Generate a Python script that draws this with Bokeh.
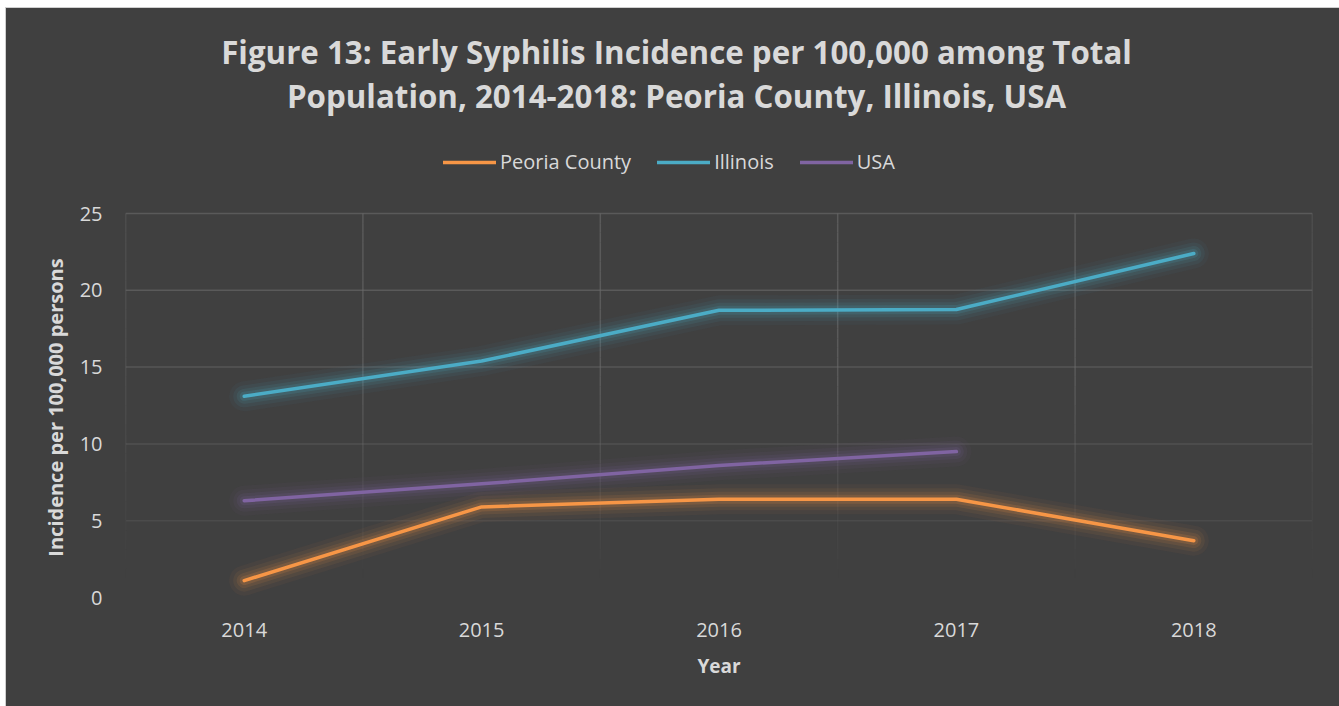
import math
from bokeh.plotting import figure
from bokeh.layouts import row
from bokeh.models import (Legend, LegendItem, FixedTicker, Range1d,
                          ColumnDataSource, Label)
from bokeh.embed import file_html
from bokeh.resources import INLINE

# Early syphilis incidence per 100,000 (total population)
years = [2014, 2015, 2016, 2017, 2018]
peoria = [1.1, 5.9, 6.4, 6.4, 3.7]
illinois = [13.1, 15.4, 18.7, 18.75, 22.4]
usa_years = [2014, 2015, 2016, 2017]
usa = [6.3, 7.4, 8.6, 9.5]

y_ticks = [0, 5, 10, 15, 20, 25]
y_max = 25

title_lines = ["Figure 13: Early Syphilis Incidence per 100,000 among Total",
               "Population, 2014-2018: Peoria County, Illinois, USA"]
y_title = "Incidence per 100,000 persons"
x_title = "Year"

BG = "#404040"
TXT = "#d9d9d9"
FONT = "Open Sans"
H = 698
SIDE_W = 70

# Narrow strip on the left carrying the rotated value-axis title
# (its frame is aligned with the main chart's frame by the row layout)
side = figure(width=SIDE_W, height=H, output_backend="svg", toolbar_location=None,
              x_range=Range1d(0, 1), y_range=Range1d(0, 1),
              x_axis_location=None, y_axis_location=None,
              min_border=0)
side.background_fill_color = BG
side.border_fill_color = BG
side.outline_line_color = None
side.grid.visible = False
side.add_layout(Label(x=49, y=190, x_units="screen", y_units="screen",
                      text=y_title, angle=math.pi / 2,
                      text_align="center", text_baseline="middle",
                      text_color=TXT, text_font=FONT, text_font_style="bold",
                      text_font_size="20px"))

# Main chart: the frame spans the full height so heading and legend sit inside it;
# the value axis itself only covers 0-25.
p = figure(width=1333 - SIDE_W, height=H, output_backend="svg", toolbar_location=None,
           x_range=Range1d(2013.5, 2018.5), y_range=Range1d(0, 38.35),
           min_border_left=117 - SIDE_W, min_border_right=27, min_border_top=0,
           min_border_bottom=109)
p.background_fill_color = BG
p.border_fill_color = BG
p.outline_line_color = None
p.title = None
p.xgrid.visible = False
p.ygrid.visible = False

# Gridlines that fade out towards the bottom of the value area
h_alpha = {25: 0.55, 20: 0.55, 15: 0.45, 10: 0.35, 5: 0.22, 0: 0.0}
hg = [t for t in y_ticks if h_alpha[t] > 0]
p.segment(x0=[2013.5] * len(hg), x1=[2018.5] * len(hg), y0=hg, y1=hg,
          line_color="#707070", line_alpha=[h_alpha[t] for t in hg], line_width=1.5)
bounds = [y - 0.5 for y in years] + [years[-1] + 0.5]
steps = 40
vx, vy0, vy1, va = [], [], [], []
for b in bounds:
    for i in range(steps):
        top = y_max - i * (y_max / steps)
        bot = top - y_max / steps
        frac = (top + bot) / 2 / y_max
        a = 0.55 * min(1.0, max(0.0, (frac - 0.05) / 0.55))
        vx.append(b); vy0.append(top); vy1.append(bot); va.append(a)
p.segment(x0=vx, x1=vx, y0=vy0, y1=vy1, line_color="#707070",
          line_alpha=va, line_width=1.5)

series = [
    ("Peoria County", years, peoria, "#f79646"),
    ("Illinois", years, illinois, "#4bacc6"),
    ("USA", usa_years, usa, "#8064a2"),
]

items = []
for name, xs, ys, col in series:
    src = ColumnDataSource(dict(x=xs, y=ys))
    # soft glow behind each line
    for w, a in [(30, 0.045), (22, 0.07), (15, 0.1), (9, 0.15)]:
        p.line("x", "y", source=src, line_color=col, line_width=w, line_alpha=a,
               line_cap="round", line_join="round")
    r = p.line("x", "y", source=src, line_color=col, line_width=3.5,
               line_cap="round", line_join="round")
    items.append(LegendItem(label=name, renderers=[r]))

# Axes
p.xaxis.ticker = FixedTicker(ticks=years)
p.yaxis.ticker = FixedTicker(ticks=y_ticks)
for ax in (p.xaxis[0], p.yaxis[0]):
    ax.axis_line_color = None
    ax.major_tick_line_color = None
    ax.minor_tick_line_color = None
    ax.major_label_text_color = TXT
    ax.major_label_text_font = FONT
    ax.major_label_text_font_size = "20px"
    ax.axis_label_text_color = TXT
    ax.axis_label_text_font = FONT
    ax.axis_label_text_font_style = "bold"
    ax.axis_label_text_font_size = "19px"
p.xaxis.axis_label = x_title
p.xaxis.major_label_standoff = 19
p.xaxis.axis_label_standoff = 13
p.yaxis.major_label_standoff = 17

legend = Legend(items=items, orientation="horizontal", location=(318, 422),
                background_fill_alpha=0.0,
                border_line_color=None, label_text_color=TXT,
                label_text_font=FONT, label_text_font_size="20px",
                glyph_width=53, glyph_height=20, label_standoff=4, spacing=26,
                padding=0, margin=0)
p.add_layout(legend, "center")

# Two-line heading, centred on the whole chart
for txt, ty in zip(title_lines, [546, 502]):
    p.add_layout(Label(x=551, y=ty, x_units="screen", y_units="screen",
                       text=txt, text_align="center", text_baseline="middle",
                       text_color=TXT, text_font=FONT, text_font_style="bold",
                       text_font_size="31.3px"))

layout = row(side, p, spacing=0)
layout.margin = (8, 0, 0, 6)
layout.styles = {"background-color": BG, "outline": "1px solid #cfcfcf"}

open("out.html", "w").write(file_html(layout, INLINE))
